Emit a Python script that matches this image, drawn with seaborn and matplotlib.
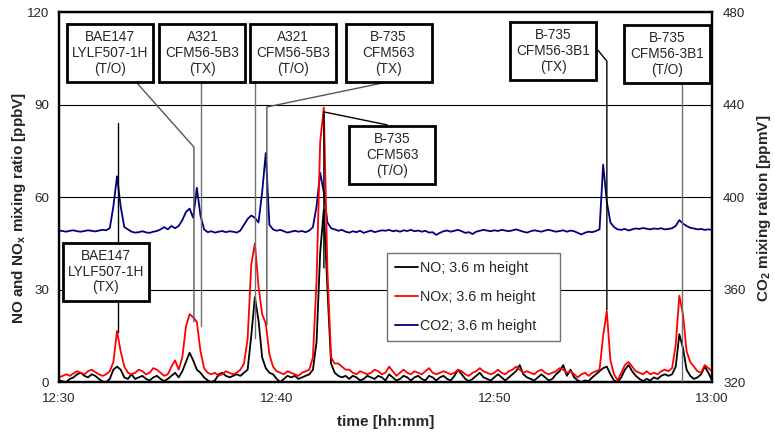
import numpy as np
import pandas as pd
import seaborn as sns
import matplotlib.pyplot as plt
from matplotlib.patches import Rectangle

# 10 s samples from 12:30:00 to 13:00:00
no_ppb = [
    0.5, 0.2, 0.0, 1.0, 1.5, 2.5, 3.0, 2.0, 1.5, 2.5,
    2.0, 1.0, 0.2, 0.0, 1.0, 4.0, 5.0, 4.0, 1.5, 1.0,
    2.5, 1.0, 1.5, 2.0, 1.0, 0.5, 1.5, 2.0, 1.0, 0.3,
    1.0, 2.0, 3.0, 1.5, 3.5, 6.5, 9.5, 7.0, 4.0, 3.0,
    1.5, 0.5, 0.0, 0.5, 2.5, 3.0, 2.0, 1.5, 2.0, 2.5,
    2.0, 3.0, 4.0, 15.0, 27.5, 20.0, 8.0, 4.5, 3.0, 2.5,
    1.0, 0.0, 1.0, 2.0, 1.5, 2.0, 1.0, 1.5, 2.0, 2.5,
    4.0, 13.0, 42.0, 56.0, 30.0, 6.0, 3.0, 2.0, 1.5, 2.0,
    1.0, 2.0, 1.5, 0.5, 1.0, 2.0, 1.5, 1.0, 2.0, 1.5,
    0.5, 2.5, 1.5, 0.5, 1.0, 2.0, 1.5, 0.5, 1.5, 2.0,
    1.0, 0.5, 2.0, 1.5, 0.5, 1.5, 2.0, 1.0, 0.5, 2.0,
    4.0, 2.5, 1.0, 0.3, 1.0, 2.0, 3.0, 1.5, 1.0, 0.5,
    1.5, 2.5, 1.5, 0.5, 1.5, 2.5, 3.5, 5.5, 2.5, 1.5,
    1.0, 0.5, 1.5, 2.5, 1.5, 0.5, 1.0, 2.5, 3.5, 5.5,
    2.0, 4.0, 1.5, 0.5, 0.0, 0.5, 0.3, 1.5, 2.5, 3.5,
    4.5, 5.0, 2.5, 0.5, 0.0, 1.5, 4.0, 5.5, 3.5, 2.0,
    1.0, 0.3, 1.0, 0.5, 1.5, 1.0, 2.0, 2.5, 2.0, 2.5,
    5.0, 15.5, 11.0, 4.0, 2.0, 1.0, 1.5, 2.5, 5.0, 3.0,
    0.5,
]
nox_ppb = [
    1.5, 2.0, 2.5, 2.0, 2.8, 3.5, 3.0, 2.5, 3.5, 4.0,
    3.2, 2.5, 2.0, 2.5, 3.5, 6.5, 16.5, 10.0, 5.0, 3.0,
    2.5, 3.0, 4.0, 3.5, 2.5, 3.0, 4.5, 4.0, 3.0, 2.0,
    2.5, 5.0, 7.0, 4.0, 8.0, 18.0, 22.0, 21.0, 19.5, 10.0,
    4.5, 3.0, 2.5, 3.0, 2.0, 2.5, 3.5, 3.0, 2.5, 3.0,
    4.0, 6.0, 14.0, 38.0, 45.0, 31.0, 22.0, 19.0, 9.0, 5.0,
    3.5, 3.0, 2.5, 3.5, 3.0, 2.5, 2.0, 3.0, 3.5, 4.0,
    8.0, 33.0, 78.0, 89.0, 36.0, 8.0, 6.0, 6.0, 5.0, 4.0,
    4.0, 3.0, 2.5, 3.5, 3.0, 2.5, 3.0, 4.0, 3.5, 2.5,
    3.0, 5.0, 3.5, 2.0, 3.0, 4.0, 3.0, 2.5, 3.5, 3.0,
    2.5, 3.5, 4.5, 3.0, 2.5, 3.0, 3.5, 3.0, 2.5, 3.0,
    4.0, 3.5, 2.5, 2.0, 3.0, 3.5, 4.5, 3.5, 3.0, 2.5,
    3.0, 4.0, 3.0, 2.5, 3.5, 4.0, 5.0, 4.0, 3.0, 3.5,
    3.0, 2.5, 3.5, 4.0, 3.0, 2.5, 3.0, 3.5, 4.5, 4.0,
    3.0, 3.5, 2.5, 1.5, 2.5, 3.0, 2.0, 3.0, 3.5, 4.0,
    15.0, 23.0, 7.0, 2.5, 0.5, 3.0, 5.5, 6.5, 5.0, 3.5,
    3.0, 2.5, 3.5, 2.5, 3.0, 2.5, 3.5, 4.0, 3.5, 4.5,
    12.0, 28.0, 22.0, 10.0, 6.5, 5.0, 3.5, 3.0, 5.5, 4.5,
    3.5,
]
co2_ppm = [
    385.5, 385.3, 385.0, 385.4, 385.6, 385.2, 385.0, 385.3, 385.6, 385.4,
    385.1, 385.5, 385.8, 385.6, 386.5, 396.0, 409.0, 396.0, 387.0, 386.0,
    385.0, 384.6, 384.8, 385.2, 384.7, 384.5, 385.0, 385.3, 386.0, 387.0,
    386.0, 387.5, 386.5, 387.5, 390.0, 393.5, 395.0, 391.0, 404.0, 392.0,
    386.0, 384.8, 385.2, 384.6, 385.0, 385.3, 384.8, 385.2, 385.0, 384.6,
    385.5, 388.0, 390.5, 392.0, 391.0, 389.0, 402.0, 419.0, 388.0, 386.0,
    385.4, 385.8, 385.2, 384.6, 385.0, 385.4, 385.0, 385.3, 384.8, 385.5,
    387.0, 396.0, 410.5, 402.0, 389.0, 386.5, 386.0, 385.4, 385.8, 385.0,
    384.6, 385.2, 384.8, 385.4, 384.5, 385.0, 385.5, 384.8, 385.2, 385.6,
    385.4, 385.8, 385.2, 385.5, 385.0, 385.6, 385.3, 385.8, 385.2, 385.5,
    385.0, 385.4, 384.6, 384.8, 383.6, 384.5, 385.2, 385.5, 385.0, 385.4,
    385.8, 385.2, 384.5, 384.8, 384.0, 385.0, 385.4, 385.8, 385.5, 385.2,
    385.6, 385.3, 385.8, 385.5, 385.2, 385.6, 386.0, 385.5, 385.0, 384.6,
    385.2, 385.6, 385.3, 385.0, 385.5, 385.8, 385.4, 385.0, 385.3, 385.6,
    385.0, 385.5, 385.2, 384.5, 383.8, 384.6, 385.0, 384.8, 385.3, 386.0,
    414.0, 398.0, 389.0, 387.0, 386.0, 385.8, 386.2, 385.5, 386.0, 386.4,
    386.2, 386.6, 386.3, 386.0, 386.4, 386.2, 386.5, 386.0, 386.2, 386.5,
    387.5, 390.0, 388.5, 387.5, 386.7, 386.4, 386.0, 386.2, 385.8, 386.0,
    385.8,
]

time_ticks = [0, 10, 20, 30]
time_labels = ['12:30', '12:40', '12:50', '13:00']

# aircraft labels: text, box centre (min, ppbV), leader line points, line colour
events = [
    ('BAE147\nLYLF507-1H\n(T/O)', 2.34, 106.7, [(3.58, 97.0), (6.20, 76.2), (6.20, 19.5)], '#555555'),
    ('A321\nCFM56-5B3\n(TX)', 6.59, 106.7, [(6.52, 97.3), (6.52, 18.2)], '#707070'),
    ('A321\nCFM56-5B3\n(T/O)', 10.75, 106.7, [(9.00, 97.3), (9.00, 14.3)], '#707070'),
    ('B-735\nCFM563\n(TX)', 15.14, 106.7, [(14.88, 97.0), (9.55, 89.2), (9.55, 18.5)], '#555555'),
    ('B-735\nCFM563\n(T/O)', 15.32, 73.6, [(15.07, 83.4), (12.17, 87.6), (12.17, 37.0)], 'black'),
    ('B-735\nCFM56-3B1\n(TX)', 22.71, 107.4, [(24.76, 107.6), (25.17, 104.1), (25.17, 23.4)], 'black'),
    ('B-735\nCFM56-3B1\n(T/O)', 27.93, 106.4, [(28.62, 97.0), (28.62, 0.3)], '#707070'),
    ('BAE147\nLYLF507-1H\n(TX)', 2.16, 35.8, [(2.71, 84.0), (2.71, 16.2)], 'black'),
]

df = pd.DataFrame({'minutes': np.arange(len(no_ppb)) / 6.0,
                   'NO': no_ppb, 'NOx': nox_ppb, 'CO2': co2_ppm})

sns.set_style('white')
plt.rcParams['font.family'] = ['Liberation Sans', 'DejaVu Sans']
plt.rcParams['mathtext.fontset'] = 'custom'
plt.rcParams['mathtext.rm'] = 'Liberation Sans'
plt.rcParams['mathtext.bf'] = 'Liberation Sans:bold'
plt.rcParams['mathtext.default'] = 'bf'

fig = plt.figure(figsize=(7.75, 4.34), dpi=100)
ax = fig.add_axes([0.0761, 0.1198, 0.8426, 0.8525])
ax2 = ax.twinx()

# CO2 on the right axis, drawn underneath
sns.lineplot(data=df, x='minutes', y='CO2', ax=ax2, color='#000080', lw=1.3,
             label='CO2; 3.6 m height', legend=False)
sns.lineplot(data=df, x='minutes', y='NO', ax=ax, color='black', lw=1.3,
             label='NO; 3.6 m height', legend=False)
sns.lineplot(data=df, x='minutes', y='NOx', ax=ax, color='#ff0000', lw=1.3,
             label='NOx; 3.6 m height', legend=False)

ax.set_zorder(ax2.get_zorder() + 1)
ax.patch.set_visible(False)

ax.set_xlim(0, 30)
ax.set_ylim(0, 120)
ax2.set_ylim(320, 480)
ax.set_xticks(time_ticks)
ax.set_xticklabels(time_labels)
ax.set_yticks([0, 30, 60, 90, 120])
ax2.set_yticks([320, 360, 400, 440, 480])
ax.yaxis.grid(True, color='black', lw=0.8)
ax.xaxis.grid(False)
ax2.grid(False)
ax.set_axisbelow(True)

ax.tick_params(axis='both', length=0, labelsize=9.6)
ax.tick_params(axis='y', pad=7)
ax.tick_params(axis='x', pad=8)
ax2.tick_params(axis='y', length=0, labelsize=9.6, pad=8)

for a in (ax, ax2):
    for s in a.spines.values():
        s.set_color('black')
        s.set_linewidth(1.6)

ax.set_xlabel('time [hh:mm]', fontsize=11, fontweight='bold')
ax.set_ylabel(r'NO and NO$_x$ mixing ratio [ppbV]', fontsize=11, fontweight='bold')
ax2.set_ylabel(r'CO$_2$ mixing ration [ppmV]', fontsize=11, fontweight='bold')
ax.xaxis.set_label_coords(0.5, -0.088)
ax.yaxis.set_label_coords(-0.047, 0.47)
ax2.yaxis.set_label_coords(1.066, 0.47)

# leader lines and labelled boxes
box_w, box_h = 3.95, 18.8
for text, cx, cy, pts, col in events:
    xs = [p[0] for p in pts]
    ys = [p[1] for p in pts]
    ax.plot(xs, ys, color=col, lw=1.0, zorder=4, clip_on=False)
    ax.add_patch(Rectangle((cx - box_w / 2, cy - box_h / 2), box_w, box_h,
                           facecolor='white', edgecolor='black', lw=2.0,
                           zorder=5, clip_on=False))
    ax.text(cx, cy, text, ha='center', va='center', fontsize=9.8,
            linespacing=1.15, zorder=6)

handles = ax.get_lines()[:2] + ax2.get_lines()[:1]
leg = ax.legend(handles, [h.get_label() for h in handles],
                loc='upper left', bbox_to_anchor=(0.502, 0.104, 0.265, 0.245),
                mode='expand', frameon=True, fancybox=False, framealpha=1,
                edgecolor='#707070', fontsize=10.3, handlelength=1.6,
                handletextpad=0.2, labelspacing=1.05, borderpad=0.55,
                borderaxespad=0)
leg.get_frame().set_linewidth(1.0)
leg.set_zorder(7)

fig.savefig('out.png', dpi=100)
